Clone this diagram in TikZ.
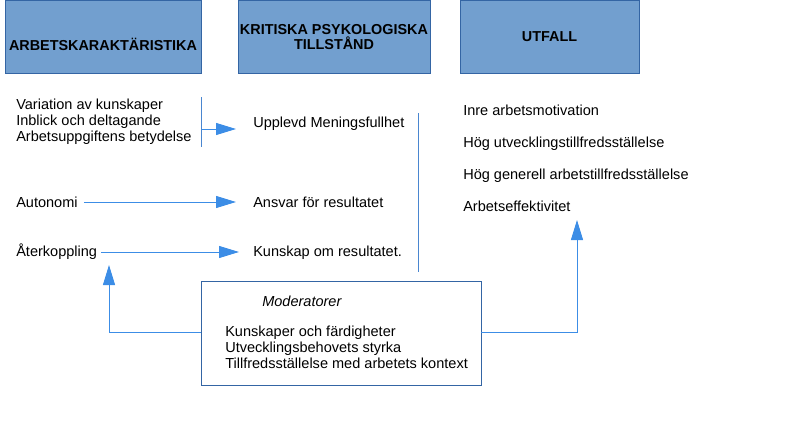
\documentclass[tikz,border=0pt]{standalone}
\usepackage{fontspec}
\setmainfont{Liberation Sans}
\usetikzlibrary{arrows.meta}
\definecolor{hdrfill}{HTML}{729FCF}
\definecolor{hdrline}{HTML}{3465A4}
\definecolor{arr}{HTML}{3C8DE6}
\definecolor{brk}{HTML}{4A86D0}
\begin{document}
\begin{tikzpicture}[x=0.75pt,y=-0.75pt,
  hdr/.style={draw=hdrline, fill=hdrfill, line width=0.7pt, inner sep=0pt,
    font=\bfseries\fontsize{10.8}{11}\selectfont, align=center},
  htxt/.style={inner sep=0pt, font=\bfseries\fontsize{10.8}{11}\selectfont, align=center},
  lbl/.style={anchor=west, inner sep=0pt, text height=7.8pt, text depth=0pt,
    font=\fontsize{10.9}{12}\selectfont},
  mlbl/.style={anchor=north west, inner sep=0pt, align=left,
    font=\fontsize{10.9}{12}\selectfont},
  conn/.style={draw=arr, line width=0.75pt},
  brack/.style={draw=brk, line width=0.75pt},
  arrw/.style={conn, -{Triangle[length=15pt,width=9pt]}}]
\useasboundingbox (0,0) rectangle (794,421);

% header boxes
\node[hdr, minimum width=147pt, minimum height=54.5pt] (h1) at (103,37) {};
\node[htxt] (h1t) at (103,44) {ARBETSKARAKTÄRISTIKA};
\node[hdr, minimum width=144pt, minimum height=54.5pt] (h2) at (334,37)
  {KRITISKA PSYKOLOGISKA\\TILLSTÅND};
\node[hdr, minimum width=134.25pt, minimum height=54.5pt] (h3) at (549.5,37)
  {UTFALL};

% left column
\node[mlbl] (jc) at (16,99)
  {Variation av kunskaper\\Inblick och deltagande\\Arbetsuppgiftens betydelse};
\node[lbl] (aut) at (16,202) {Autonomi};
\node[lbl] (ater) at (16,251) {Återkoppling};

% middle column
\node[lbl] (upp) at (253,122) {Upplevd Meningsfullhet};
\node[lbl] (ans) at (253,202) {Ansvar för resultatet};
\node[lbl] (kun) at (253,251) {Kunskap om resultatet.};

% right column
\node[lbl] (o1) at (463,110) {Inre arbetsmotivation};
\node[lbl] (o2) at (463,142) {Hög utvecklingstillfredsställelse};
\node[lbl] (o3) at (463,174) {Hög generell arbetstillfredsställelse};
\node[lbl] (o4) at (463,206) {Arbetseffektivitet};

% bracket and arrows
\coordinate (bt) at (201.7,97);
\coordinate (bb) at (201.7,147);
\coordinate (bm) at (201.7,129);
\coordinate (bmtip) at (236,129);
\draw[brack] (bt) -- (bb);
\draw[arrw] (bm) -- (bmtip);
\draw[arrw] ([xshift=4.5pt]aut.east) -- ([xshift=-12.75pt]ans.west);
\draw[arrw] ([xshift=3pt]ater.east |- 0,252) -- (239,252);

\coordinate (rt) at (418,113);
\coordinate (rb) at (418,272);
\draw[brack] (rt) -- (rb);

% moderator box
\node[draw=hdrline, line width=0.7pt, fill=white, minimum width=210pt,
  minimum height=78pt, inner sep=0pt] (mod) at (341,333) {};
\node[lbl, font=\itshape\fontsize{10.9}{12}\selectfont] (modt) at (262,301) {Moderatorer};
\node[mlbl] (modl) at (225,326)
  {Kunskaper och färdigheter\\Utvecklingsbehovets styrka\\Tillfredsställelse med arbetets kontext};

\coordinate (fbtip) at (109,265);
\coordinate (outtip) at (577,220);
\draw[arrw] (mod.west |- 0,332) -| (fbtip);
\draw[arrw] (mod.east |- 0,332) -| (outtip);
\end{tikzpicture}
\end{document}
